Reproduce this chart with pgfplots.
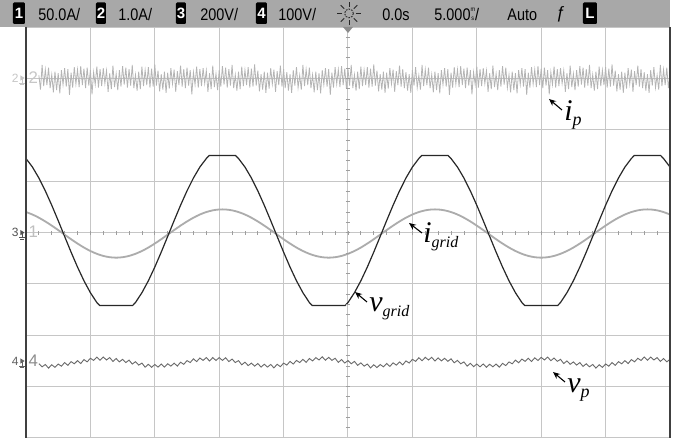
\documentclass[border=0pt]{standalone}
\usepackage{pgfplots}
\pgfplotsset{compat=1.18}
\usetikzlibrary{arrows.meta}
\usepackage{fontspec}
\setmainfont{Liberation Serif}
\newfontfamily\hdr{Liberation Sans}
\definecolor{hdrgray}{RGB}{168,168,168}
\definecolor{gridc}{RGB}{198,198,198}
\definecolor{vgridc}{RGB}{40,40,40}
\definecolor{igridc}{RGB}{172,172,172}
\definecolor{ipc}{RGB}{180,180,180}
\definecolor{vpc}{RGB}{105,105,105}
\definecolor{borderc}{RGB}{64,64,64}
\newcommand{\hf}{\hdr\fontsize{8.4}{10}\selectfont}
\newcommand{\hsc}[1]{\scalebox{0.86}[1]{#1}}
\begin{document}
\begin{tikzpicture}
\path[use as bounding box] (0pt,0pt) rectangle (338.5pt,219pt);
\fill[white] (0pt,0pt) rectangle (338.5pt,219pt);
\begin{axis}[
  at={(13pt,0pt)}, anchor=south west,
  scale only axis, width=322pt, height=205.5pt,
  xmin=0, xmax=10, ymin=-4, ymax=4,
  xtick={0,...,10}, ytick={-4,...,4},
  xticklabels={}, yticklabels={},
  major tick length=0pt,
  grid=major, major grid style={draw=gridc, line width=0.5pt},
  axis line style={draw=none},
  clip=true,
]
% i_grid (channel 1)
\addplot[igridc, line width=0.9pt, smooth] coordinates {
(0,0.398)(0.1,0.350)(0.2,0.288)(0.3,0.215)(0.4,0.134)(0.5,0.047)(0.6,-0.042)(0.7,-0.131)(0.8,-0.215)(0.9,-0.293)(1.0,-0.360)(1.1,-0.415)(1.2,-0.456)(1.3,-0.481)(1.4,-0.490)(1.5,-0.481)(1.6,-0.456)(1.7,-0.415)(1.8,-0.360)(1.9,-0.293)(2.0,-0.215)(2.1,-0.131)(2.2,-0.042)(2.3,0.047)(2.4,0.134)(2.5,0.215)(2.6,0.288)(2.7,0.350)(2.8,0.398)(2.9,0.431)(3.0,0.448)(3.1,0.448)(3.2,0.431)
(3.3,0.398)(3.4,0.350)(3.5,0.288)(3.6,0.215)(3.7,0.134)(3.8,0.047)(3.9,-0.042)(4.0,-0.131)(4.1,-0.215)(4.2,-0.293)(4.3,-0.360)(4.4,-0.415)(4.5,-0.456)(4.6,-0.481)(4.7,-0.490)(4.8,-0.481)(4.9,-0.456)(5.0,-0.415)(5.1,-0.360)(5.2,-0.293)(5.3,-0.215)(5.4,-0.131)(5.5,-0.042)(5.6,0.047)(5.7,0.134)(5.8,0.215)(5.9,0.288)(6.0,0.350)(6.1,0.398)(6.2,0.431)(6.3,0.448)(6.4,0.448)(6.5,0.431)
(6.6,0.398)(6.7,0.350)(6.8,0.288)(6.9,0.215)(7.0,0.134)(7.1,0.047)(7.2,-0.042)(7.3,-0.131)(7.4,-0.215)(7.5,-0.293)(7.6,-0.360)(7.7,-0.415)(7.8,-0.456)(7.9,-0.481)(8.0,-0.490)(8.1,-0.481)(8.2,-0.456)(8.3,-0.415)(8.4,-0.360)(8.5,-0.293)(8.6,-0.215)(8.7,-0.131)(8.8,-0.042)(8.9,0.047)(9.0,0.134)(9.1,0.215)(9.2,0.288)(9.3,0.350)(9.4,0.398)(9.5,0.431)(9.6,0.448)(9.7,0.448)(9.8,0.431)(9.9,0.398)(10.0,0.350)
};
% v_grid (channel 3)
\addplot[vgridc, line width=0.6pt] coordinates {
(0,1.440)(0.1,1.274)(0.2,1.061)(0.3,0.810)(0.4,0.530)(0.5,0.231)(0.6,-0.077)(0.7,-0.382)(0.8,-0.673)(0.9,-0.940)(1.0,-1.172)(1.1,-1.363)(1.1434,-1.42)(1.6567,-1.42)(1.7,-1.363)(1.8,-1.172)(1.9,-0.940)(2.0,-0.673)(2.1,-0.382)(2.2,-0.077)(2.3,0.231)(2.4,0.530)(2.5,0.810)(2.6,1.061)(2.7,1.274)(2.8,1.440)(2.8466,1.50)(3.2536,1.50)(3.3,1.440)(3.4,1.274)(3.5,1.061)(3.6,0.810)(3.7,0.530)(3.8,0.231)(3.9,-0.077)(4.0,-0.382)(4.1,-0.673)(4.2,-0.940)(4.3,-1.172)(4.4,-1.363)(4.4434,-1.42)(4.9567,-1.42)(5.0,-1.363)(5.1,-1.172)(5.2,-0.940)(5.3,-0.673)(5.4,-0.382)(5.5,-0.077)(5.6,0.231)(5.7,0.530)(5.8,0.810)(5.9,1.061)(6.0,1.274)(6.1,1.440)(6.1466,1.50)(6.5536,1.50)(6.6,1.440)(6.7,1.274)(6.8,1.061)(6.9,0.810)(7.0,0.530)(7.1,0.231)(7.2,-0.077)(7.3,-0.382)(7.4,-0.673)(7.5,-0.940)(7.6,-1.172)(7.7,-1.363)(7.7434,-1.42)(8.2567,-1.42)(8.3,-1.363)(8.4,-1.172)(8.5,-0.940)(8.6,-0.673)(8.7,-0.382)(8.8,-0.077)(8.9,0.231)(9.0,0.530)(9.1,0.810)(9.2,1.061)(9.3,1.274)(9.4,1.440)(9.4466,1.50)(9.8536,1.50)(9.9,1.440)(10.0,1.274)
};
% i_p (channel 2)
\addplot[ipc, line width=0.4pt] coordinates {
(0.2,3.06)(0.225,2.78)(0.25,3.26)(0.275,2.85)(0.3,3.17)(0.325,2.87)(0.35,3.21)(0.375,2.81)(0.4,3.07)(0.425,2.73)(0.45,3.13)(0.475,2.77)
(0.5,3.10)(0.525,2.71)(0.55,3.16)(0.575,2.88)(0.6,3.20)(0.625,2.84)(0.65,3.18)(0.675,2.68)(0.7,3.11)(0.725,2.82)
(0.75,3.22)(0.775,2.89)(0.8,3.17)(0.825,2.83)(0.85,3.24)(0.875,2.87)(0.9,3.19)(0.925,2.81)(0.95,3.21)(0.975,2.86)
(1,3.16)(1.025,2.69)(1.05,3.12)(1.075,2.88)(1.1,3.23)(1.125,2.82)(1.15,3.18)(1.175,2.85)(1.2,3.20)(1.225,2.90)
(1.25,3.15)(1.275,2.74)(1.3,3.10)(1.325,2.79)(1.35,3.25)(1.375,2.83)(1.4,3.09)(1.425,2.77)(1.45,3.16)(1.475,2.84)
(1.5,3.24)(1.525,2.88)(1.55,3.21)(1.575,2.82)(1.6,3.18)(1.625,2.86)(1.65,3.26)(1.675,2.81)(1.7,3.07)(1.725,2.76)
(1.75,3.13)(1.775,2.79)(1.8,3.23)(1.825,2.85)(1.85,3.16)(1.875,2.87)(1.9,3.22)(1.925,2.82)(1.95,3.19)(1.975,2.84)
(2,3.27)(2.025,2.86)(2.05,3.15)(2.075,2.75)(2.1,3.08)(2.125,2.78)(2.15,3.13)(2.175,2.72)(2.2,3.11)(2.225,2.80)
(2.25,3.20)(2.275,2.89)(2.3,3.17)(2.325,2.74)(2.35,3.14)(2.375,2.87)(2.4,3.25)(2.425,2.84)(2.45,3.18)(2.475,2.81)
(2.5,3.21)(2.525,2.86)(2.55,3.16)(2.575,2.69)(2.6,3.12)(2.625,2.88)(2.65,3.23)(2.675,2.82)(2.7,3.18)(2.725,2.85)
(2.75,3.20)(2.775,2.90)(2.8,3.15)(2.825,2.74)(2.85,3.10)(2.875,2.79)(2.9,3.25)(2.925,2.83)(2.95,3.09)(2.975,2.77)
(3,3.16)(3.025,2.84)(3.05,3.24)(3.075,2.88)(3.1,3.21)(3.125,2.82)(3.15,3.18)(3.175,2.86)(3.2,3.26)(3.225,2.81)
(3.25,3.07)(3.275,2.76)(3.3,3.13)(3.325,2.79)(3.35,3.23)(3.375,2.85)(3.4,3.16)(3.425,2.87)(3.45,3.22)(3.475,2.82)
(3.5,3.19)(3.525,2.84)(3.55,3.27)(3.575,2.86)(3.6,3.15)(3.625,2.75)(3.65,3.08)(3.675,2.78)(3.7,3.13)(3.725,2.72)
(3.75,3.11)(3.775,2.80)(3.8,3.20)(3.825,2.89)(3.85,3.17)(3.875,2.74)(3.9,3.14)(3.925,2.87)(3.95,3.25)(3.975,2.84)
(4,3.18)(4.025,2.81)(4.05,3.12)(4.075,2.76)(4.1,3.08)(4.125,2.72)(4.15,3.16)(4.175,2.86)(4.2,3.22)(4.225,2.82)
(4.25,3.06)(4.275,2.78)(4.3,3.26)(4.325,2.85)(4.35,3.17)(4.375,2.87)(4.4,3.21)(4.425,2.81)(4.45,3.07)(4.475,2.73)
(4.5,3.13)(4.525,2.77)(4.55,3.10)(4.575,2.71)(4.6,3.16)(4.625,2.88)(4.65,3.20)(4.675,2.84)(4.7,3.18)(4.725,2.68)
(4.75,3.11)(4.775,2.82)(4.8,3.22)(4.825,2.89)(4.85,3.17)(4.875,2.83)(4.9,3.24)(4.925,2.87)(4.95,3.19)(4.975,2.81)
(5,3.18)(5.025,2.86)(5.05,3.26)(5.075,2.81)(5.1,3.07)(5.125,2.76)(5.15,3.13)(5.175,2.79)(5.2,3.23)(5.225,2.85)
(5.25,3.16)(5.275,2.87)(5.3,3.22)(5.325,2.82)(5.35,3.19)(5.375,2.84)(5.4,3.27)(5.425,2.86)(5.45,3.15)(5.475,2.75)
(5.5,3.08)(5.525,2.78)(5.55,3.13)(5.575,2.72)(5.6,3.11)(5.625,2.80)(5.65,3.20)(5.675,2.89)(5.7,3.17)(5.725,2.74)
(5.75,3.14)(5.775,2.87)(5.8,3.25)(5.825,2.84)(5.85,3.18)(5.875,2.81)(5.9,3.12)(5.925,2.76)(5.95,3.08)(5.975,2.72)
(6,3.16)(6.025,2.86)(6.05,3.22)(6.075,2.82)(6.1,3.06)(6.125,2.78)(6.15,3.26)(6.175,2.85)(6.2,3.17)(6.225,2.87)
(6.25,3.21)(6.275,2.81)(6.3,3.07)(6.325,2.73)(6.35,3.13)(6.375,2.77)(6.4,3.10)(6.425,2.71)(6.45,3.16)(6.475,2.88)
(6.5,3.20)(6.525,2.84)(6.55,3.18)(6.575,2.68)(6.6,3.11)(6.625,2.82)(6.65,3.22)(6.675,2.89)(6.7,3.17)(6.725,2.83)
(6.75,3.24)(6.775,2.87)(6.8,3.19)(6.825,2.81)(6.85,3.21)(6.875,2.86)(6.9,3.16)(6.925,2.69)(6.95,3.12)(6.975,2.88)
(7,3.23)(7.025,2.82)(7.05,3.18)(7.075,2.85)(7.1,3.20)(7.125,2.90)(7.15,3.15)(7.175,2.74)(7.2,3.10)(7.225,2.79)
(7.25,3.25)(7.275,2.83)(7.3,3.09)(7.325,2.77)(7.35,3.16)(7.375,2.84)(7.4,3.24)(7.425,2.88)(7.45,3.21)(7.475,2.82)
(7.5,3.07)(7.525,2.73)(7.55,3.13)(7.575,2.77)(7.6,3.10)(7.625,2.71)(7.65,3.16)(7.675,2.88)(7.7,3.20)(7.725,2.84)
(7.75,3.18)(7.775,2.68)(7.8,3.11)(7.825,2.82)(7.85,3.22)(7.875,2.89)(7.9,3.17)(7.925,2.83)(7.95,3.24)(7.975,2.87)
(8,3.19)(8.025,2.81)(8.05,3.21)(8.075,2.86)(8.1,3.16)(8.125,2.69)(8.15,3.12)(8.175,2.88)(8.2,3.23)(8.225,2.82)
(8.25,3.18)(8.275,2.85)(8.3,3.20)(8.325,2.90)(8.35,3.15)(8.375,2.74)(8.4,3.10)(8.425,2.79)(8.45,3.25)(8.475,2.83)
(8.5,3.09)(8.525,2.77)(8.55,3.16)(8.575,2.84)(8.6,3.24)(8.625,2.88)(8.65,3.21)(8.675,2.82)(8.7,3.18)(8.725,2.86)
(8.75,3.26)(8.775,2.81)(8.8,3.07)(8.825,2.76)(8.85,3.13)(8.875,2.79)(8.9,3.23)(8.925,2.85)(8.95,3.16)(8.975,2.87)
(9,3.22)(9.025,2.82)(9.05,3.19)(9.075,2.84)(9.1,3.27)(9.125,2.86)(9.15,3.15)(9.175,2.75)(9.2,3.08)(9.225,2.78)
(9.25,3.13)(9.275,2.72)(9.3,3.11)(9.325,2.80)(9.35,3.20)(9.375,2.89)(9.4,3.17)(9.425,2.74)(9.45,3.14)(9.475,2.87)
(9.5,3.25)(9.525,2.84)(9.55,3.18)(9.575,2.81)(9.6,3.12)(9.625,2.76)(9.65,3.08)(9.675,2.72)(9.7,3.16)(9.725,2.86)
(9.75,3.22)(9.775,2.82)(9.8,3.06)(9.825,2.78)(9.85,3.26)(9.875,2.85)(9.9,3.17)(9.925,2.87)(9.95,3.21)(9.975,2.81)(10,3.07)
};
% v_p (channel 4)
\addplot[vpc, line width=0.45pt] coordinates {
(0.2,-2.555)(0.25,-2.615)(0.3,-2.569)(0.35,-2.640)(0.4,-2.574)(0.45,-2.625)(0.5,-2.560)(0.55,-2.602)(0.6,-2.532)(0.65,-2.586)(0.7,-2.514)(0.75,-2.556)(0.8,-2.494)(0.85,-2.551)(0.9,-2.474)(0.95,-2.518)(1.0,-2.448)(1.05,-2.490)(1.1,-2.425)(1.15,-2.486)(1.2,-2.425)(1.25,-2.481)(1.3,-2.435)(1.35,-2.510)(1.4,-2.453)(1.45,-2.518)(1.5,-2.469)(1.55,-2.531)(1.6,-2.484)(1.65,-2.561)(1.7,-2.514)(1.75,-2.581)(1.8,-2.542)(1.85,-2.622)(1.9,-2.565)(1.95,-2.625)(2.0,-2.569)(2.05,-2.620)(2.1,-2.559)(2.15,-2.620)(2.2,-2.555)(2.25,-2.602)(2.3,-2.542)(2.35,-2.601)(2.4,-2.524)(2.45,-2.566)(2.5,-2.494)(2.55,-2.531)(2.6,-2.459)(2.65,-2.513)(2.7,-2.443)(2.75,-2.490)(2.8,-2.435)(2.85,-2.501)(2.9,-2.435)(2.95,-2.491)(3.0,-2.435)(3.05,-2.490)(3.1,-2.438)(3.15,-2.513)(3.2,-2.464)(3.25,-2.531)(3.3,-2.494)(3.35,-2.576)(3.4,-2.524)(3.45,-2.591)(3.5,-2.542)(3.55,-2.602)(3.6,-2.550)(3.65,-2.620)(3.7,-2.564)(3.75,-2.620)(3.8,-2.569)(3.85,-2.635)(3.9,-2.565)(3.95,-2.612)(4.0,-2.542)(4.05,-2.581)(4.1,-2.509)(4.15,-2.561)(4.2,-2.489)(4.25,-2.531)(4.3,-2.469)(4.35,-2.528)(4.4,-2.453)(4.45,-2.500)(4.5,-2.435)(4.55,-2.481)(4.6,-2.420)(4.65,-2.486)(4.7,-2.430)(4.75,-2.490)(4.8,-2.448)(4.85,-2.528)(4.9,-2.474)(4.95,-2.541)(5.0,-2.494)(5.05,-2.556)(5.1,-2.509)(5.15,-2.586)(5.2,-2.537)(5.25,-2.602)(5.3,-2.560)(5.35,-2.635)(5.4,-2.574)(5.45,-2.630)(5.5,-2.569)(5.55,-2.615)(5.6,-2.550)(5.65,-2.607)(5.7,-2.537)(5.75,-2.581)(5.8,-2.519)(5.85,-2.576)(5.9,-2.499)(5.95,-2.541)(6.0,-2.469)(6.05,-2.508)(6.1,-2.438)(6.15,-2.495)(6.2,-2.430)(6.25,-2.481)(6.3,-2.430)(6.35,-2.501)(6.4,-2.440)(6.45,-2.500)(6.5,-2.448)(6.55,-2.508)(6.6,-2.459)(6.65,-2.536)(6.7,-2.489)(6.75,-2.556)(6.8,-2.519)(6.85,-2.601)(6.9,-2.547)(6.95,-2.612)(7.0,-2.560)(7.05,-2.615)(7.1,-2.559)(7.15,-2.625)(7.2,-2.564)(7.25,-2.615)(7.3,-2.560)(7.35,-2.622)(7.4,-2.547)(7.45,-2.591)(7.5,-2.519)(7.55,-2.556)(7.6,-2.484)(7.65,-2.536)(7.7,-2.464)(7.75,-2.508)(7.8,-2.448)(7.85,-2.510)(7.9,-2.440)(7.95,-2.491)(8.0,-2.430)(8.05,-2.481)(8.1,-2.425)(8.15,-2.495)(8.2,-2.443)(8.25,-2.508)(8.3,-2.469)(8.35,-2.551)(8.4,-2.499)(8.45,-2.566)(8.5,-2.519)(8.55,-2.581)(8.6,-2.532)(8.65,-2.607)(8.7,-2.555)(8.75,-2.615)(8.8,-2.569)(8.85,-2.640)(8.9,-2.574)(8.95,-2.625)(9.0,-2.560)(9.05,-2.602)(9.1,-2.532)(9.15,-2.586)(9.2,-2.514)(9.25,-2.556)(9.3,-2.494)(9.35,-2.551)(9.4,-2.474)(9.45,-2.518)(9.5,-2.448)(9.55,-2.490)(9.6,-2.425)(9.65,-2.486)(9.7,-2.425)(9.75,-2.481)(9.8,-2.435)(9.85,-2.510)(9.9,-2.453)(9.95,-2.518)(10.0,-2.469)
};
\end{axis}
% minor ticks on centre lines
\foreach \i in {1,...,49} \draw[gridc!80!black, line width=0.4pt] (13pt+\i*6.44pt,101.7pt) -- ++(0,2pt);
\foreach \i in {1,...,39} \draw[gridc!80!black, line width=0.4pt] (173pt,\i*5.1375pt) -- ++(2pt,0);
% borders
\draw[borderc, line width=1pt] (13pt,0pt) -- (13pt,205.5pt);
\draw[borderc, line width=1pt] (335pt,0pt) -- (335pt,205.5pt);
% header bar
\fill[hdrgray] (0pt,205.5pt) rectangle (335pt,219pt);
\foreach \xa/\xb/\t in {6.5/12.5/1, 48/53/2, 88/93/3, 128/133.5/4, 291.5/298.5/L}{
  \fill[black, rounded corners=0.6pt] (\xa pt,207pt) rectangle (\xb pt,217.8pt);
  \node[text=white, inner sep=0, font={\hdr\bfseries\fontsize{7.5}{8}\selectfont}] at ({(\xa+\xb)/2*1pt},212.3pt) {\t};
}
\node[anchor=west, inner sep=0, font=\hf] at (19pt,211.8pt) {\hsc{50.0A/}};
\node[anchor=west, inner sep=0, font=\hf] at (59pt,211.8pt) {\hsc{1.0A/}};
\node[anchor=west, inner sep=0, font=\hf] at (100pt,211.8pt) {\hsc{200V/}};
\node[anchor=west, inner sep=0, font=\hf] at (139pt,211.8pt) {\hsc{100V/}};
\node[anchor=west, inner sep=0, font=\hf] at (191pt,211.8pt) {\hsc{0.0s}};
\node[anchor=west, inner sep=0, font=\hf] at (217pt,211.8pt) {\hsc{5.000\raisebox{-0.3pt}{\fontsize{3.2}{3.7}\selectfont\shortstack{m\\s}}/}};
\node[anchor=west, inner sep=0, font=\hf] at (253.5pt,211.8pt) {\hsc{Auto}};
\node[inner sep=0, font=\hf] at (280.5pt,211.8pt) {ƒ};
% sun icon
\begin{scope}[shift={(174.5pt,212.3pt)}, black!85, line width=0.45pt]
  \draw[dash pattern=on 0.8pt off 0.6pt] (0,0) circle (2.2pt);
  \foreach \a in {0,45,...,315} \draw (\a:3.4pt) -- (\a:5.8pt);
\end{scope}
% trigger marker
\fill[black!45] (171.5pt,205.5pt) -- (176.5pt,205.5pt) -- (174pt,202.5pt) -- cycle;
% channel markers left of the axis
\newcommand{\chmark}[3]{%
  \node[inner sep=0, text=#2, font={\hdr\fontsize{6}{6}\selectfont}] at (7.6pt,#1) {#3};
  \fill[#2] (10.2pt,#1+1.3pt) -- (12.3pt,#1) -- (10.2pt,#1-1.3pt) -- cycle;
  \draw[#2, line width=0.35pt] (11pt,#1) -- (11pt,#1-2.6pt) (9.6pt,#1-2.6pt) -- (12.4pt,#1-2.6pt) (10.2pt,#1-3.3pt) -- (11.8pt,#1-3.3pt);
}
\chmark{180pt}{black!22}{2}
\chmark{102.7pt}{black!68}{3}
\chmark{38.5pt}{black!62}{4}
\node[inner sep=0, text=black!22, font={\hdr\fontsize{8.4}{8.4}\selectfont}] at (16.6pt,180.2pt) {2};
\node[inner sep=0, text=black!25, font={\hdr\fontsize{8.4}{8.4}\selectfont}] at (16.6pt,102.9pt) {1};
\node[inner sep=0, text=black!45, font={\hdr\fontsize{8.4}{8.4}\selectfont}] at (16.6pt,38.7pt) {4};
% annotations
\draw[-{Stealth[length=3.5pt,width=3pt]}, line width=0.55pt] (281pt,164pt) -- (274.5pt,169.5pt);
\node[anchor=base west, inner sep=0] at (282pt,158.5pt) {\fontsize{15}{15}\selectfont\itshape i\raisebox{-2.5pt}{\fontsize{9}{9}\selectfont p}};
\draw[-{Stealth[length=3.5pt,width=3pt]}, line width=0.55pt] (211pt,102.5pt) -- (204.5pt,107.5pt);
\node[anchor=base west, inner sep=0] at (211.5pt,97.5pt) {\fontsize{15}{15}\selectfont\itshape i\raisebox{-2.5pt}{\fontsize{8}{8}\selectfont grid}};
\draw[-{Stealth[length=3.5pt,width=3pt]}, line width=0.55pt] (183.5pt,68pt) -- (177.5pt,73pt);
\node[anchor=base west, inner sep=0] at (184.5pt,63pt) {\fontsize{15}{15}\selectfont\itshape v\raisebox{-2.5pt}{\fontsize{8}{8}\selectfont grid}};
\draw[-{Stealth[length=3.5pt,width=3pt]}, line width=0.55pt] (282.5pt,28pt) -- (276.5pt,33pt);
\node[anchor=base west, inner sep=0] at (283.5pt,22.5pt) {\fontsize{15}{15}\selectfont\itshape v\raisebox{-2.5pt}{\fontsize{9}{9}\selectfont p}};
\end{tikzpicture}
\end{document}
